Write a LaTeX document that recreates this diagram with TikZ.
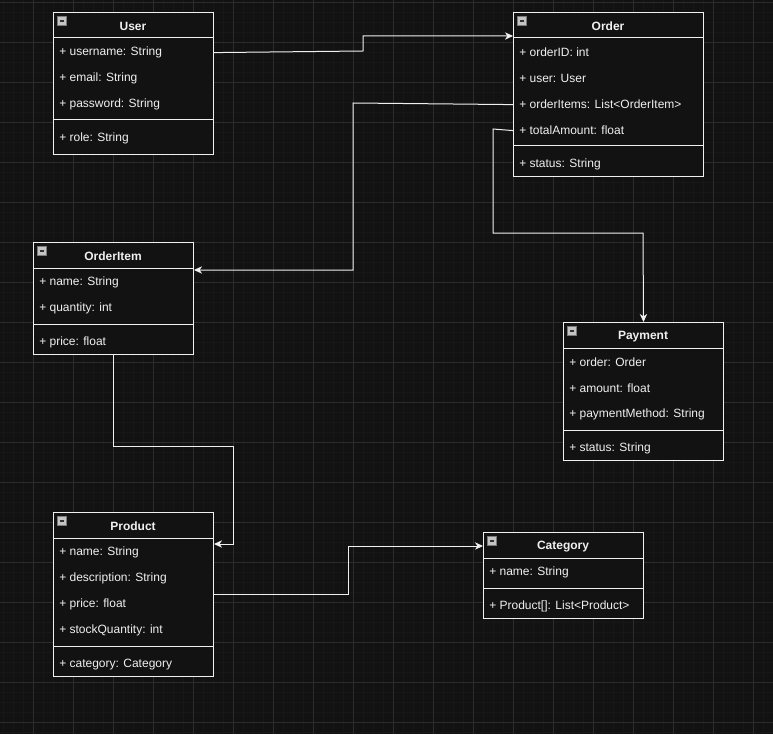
\documentclass[tikz,border=0pt]{standalone}
\usepackage{fontspec}
\setmainfont{Liberation Sans}
\usetikzlibrary{arrows.meta,calc}
\definecolor{canvas}{HTML}{121212}
\definecolor{gridminor}{HTML}{171717}
\definecolor{gridmajor}{HTML}{2C2C2C}
\definecolor{ink}{HTML}{F0F0F0}
\definecolor{iconfill}{HTML}{C4C4C4}
\definecolor{iconedge}{HTML}{7A7A7A}
\tikzset{
  classbox/.style={draw=ink, fill=canvas, line width=0.75pt, rectangle, inner sep=0pt, anchor=north west},
  divider/.style={draw=ink, line width=0.75pt},
  title/.style={text=ink, font=\fontsize{9}{10}\selectfont\bfseries, inner sep=0pt, yshift=-1.2pt},
  attr/.style={text=ink, font=\fontsize{9}{10}\selectfont, inner sep=0pt, anchor=west, yshift=-1.2pt},
  foldicon/.style={draw=iconedge, fill=iconfill, line width=0.4pt, rectangle, inner sep=0pt,
    minimum size=6.5pt,
    path picture={\draw[black!80, line width=0.9pt]
      ([xshift=1.4pt]path picture bounding box.west) -- ([xshift=-1.4pt]path picture bounding box.east);}},
  conn/.style={draw=ink, line width=0.75pt,
    -{Stealth[length=6pt, width=5.5pt, inset=1.8pt]}},
}
% #1 name, #2 left, #3 top, #4 width, #5 height (all in px)
\newcommand\umlbox[5]{%
  \node[classbox, minimum width=#4*0.75pt, minimum height=#5*0.75pt] (#1) at (#2,#3) {};
  \node[foldicon] (#1-fold) at (#2+9,#3+9) {};
}
% horizontal rule across box #1 at height #2 (px)
\newcommand\umlrule[2]{%
  \draw[divider] (#1.west |- 0,#2) -- (#1.east |- 0,#2);
}
\begin{document}
\begin{tikzpicture}[x=0.75pt, y=-0.75pt]
  % canvas and grid (10 px cells, heavier line every 4 cells)
  \fill[canvas] (0,0) rectangle (773,734);
  \useasboundingbox (0,0) rectangle (773,734);
  \foreach \i in {0,...,77} {
    \pgfmathsetmacro\gx{3.5+10*\i}
    \draw[gridminor, line width=0.75pt] (\gx,0) -- (\gx,734);
  }
  \foreach \i in {0,...,73} {
    \pgfmathsetmacro\gy{2.5+10*\i}
    \draw[gridminor, line width=0.75pt] (0,\gy) -- (773,\gy);
  }
  \foreach \i in {0,...,18} {
    \pgfmathsetmacro\gx{33.5+40*\i}
    \draw[gridmajor, line width=0.75pt] (\gx,0) -- (\gx,734);
  }
  \foreach \i in {0,...,18} {
    \pgfmathsetmacro\gy{2.5+40*\i}
    \draw[gridmajor, line width=0.75pt] (0,\gy) -- (773,\gy);
  }

  % User
  \umlbox{user}{53}{12}{160}{142}
  \node[title] (user-t) at (133,25) {User};
  \umlrule{user}{38}
  \node[attr] (user-a) at (59,51) {+ username: String};
  \node[attr] (user-b) at (59,77) {+ email: String};
  \node[attr] (user-c) at (59,103) {+ password: String};
  \umlrule{user}{120}
  \node[attr] (user-d) at (59,137) {+ role: String};

  % Order
  \umlbox{order}{513}{12}{190}{164}
  \node[title] (order-t) at (608,25) {Order};
  \umlrule{order}{38}
  \node[attr] (order-a) at (519,51) {+ orderID: int};
  \node[attr] (order-b) at (519,77) {+ user: User};
  \node[attr] (order-c) at (519,103) {+ orderItems: List<OrderItem>};
  \node[attr] (order-d) at (519,129) {+ totalAmount: float};
  \umlrule{order}{146}
  \node[attr] (order-e) at (519,163) {+ status: String};

  % OrderItem
  \umlbox{item}{33}{242}{160}{112}
  \node[title] (item-t) at (113,255) {OrderItem};
  \umlrule{item}{268}
  \node[attr] (item-a) at (39,281) {+ name: String};
  \node[attr] (item-b) at (39,307) {+ quantity: int};
  \umlrule{item}{324}
  \node[attr] (item-c) at (39,341) {+ price: float};

  % Payment
  \umlbox{payment}{563}{322}{160}{138}
  \node[title] (payment-t) at (643,335) {Payment};
  \umlrule{payment}{348}
  \node[attr] (payment-a) at (569,361) {+ order: Order};
  \node[attr] (payment-b) at (569,387) {+ amount: float};
  \node[attr] (payment-c) at (569,413) {+ paymentMethod: String};
  \umlrule{payment}{430}
  \node[attr] (payment-d) at (569,447) {+ status: String};

  % Product
  \umlbox{product}{53}{512}{160}{164}
  \node[title] (product-t) at (133,525) {Product};
  \umlrule{product}{538}
  \node[attr] (product-a) at (59,551) {+ name: String};
  \node[attr] (product-b) at (59,577) {+ description: String};
  \node[attr] (product-c) at (59,603) {+ price: float};
  \node[attr] (product-d) at (59,629) {+ stockQuantity: int};
  \umlrule{product}{646}
  \node[attr] (product-e) at (59,663) {+ category: Category};

  % Category
  \umlbox{category}{483}{532}{160}{86}
  \node[title] (category-t) at (563,545) {Category};
  \umlrule{category}{558}
  \node[attr] (category-a) at (489,571) {+ name: String};
  \umlrule{category}{588}
  \node[attr] (category-b) at (489,605) {+ Product[]: List<Product>};

  % associations
  \draw[conn] (user.east |- user-a) -- (363,51) |- (order.west |- 0,36);
  \draw[conn] (order.west |- order-c) -- (353,103) |- (item.east |- 0,270);
  \draw[conn] (order.west |- order-d) -- (493,129) |- (643,233) -- (payment.north);
  \draw[conn] (item.south) |- (233,446) |- (product.east |- 0,544);
  \draw[conn] (product.east |- 0,594) -- (348,594) |- (category.west |- 0,546);
\end{tikzpicture}
\end{document}
